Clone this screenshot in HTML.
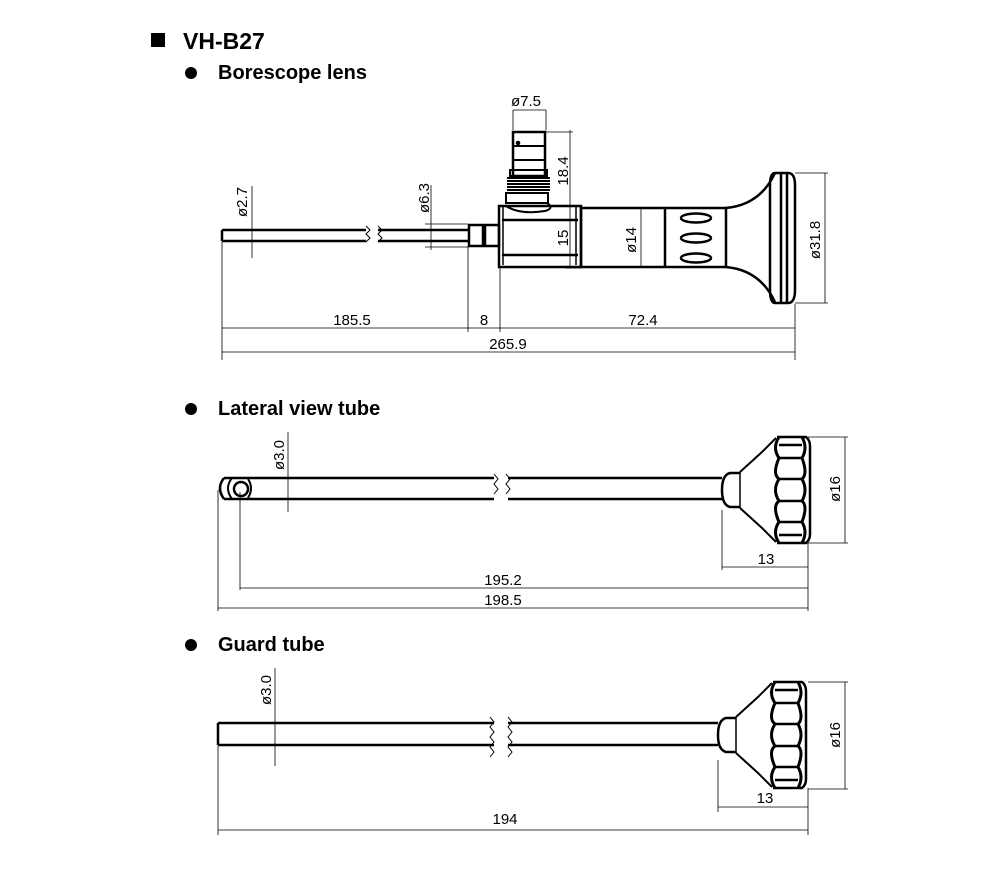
<!DOCTYPE html>
<html><head><meta charset="utf-8"><style>
html,body{margin:0;padding:0;background:#fff;}
svg{display:block;}
text{font-family:"Liberation Sans",Arial,sans-serif;fill:#000;}
.t{font-size:15px;}
.h{font-weight:bold;}
</style></head><body>
<svg width="1000" height="888" viewBox="0 0 1000 888" xmlns="http://www.w3.org/2000/svg">
<defs>
<g id="knob" fill="none" stroke="#000">
  <path d="M18,-17 L8,-17 Q0,-15 0,0 Q0,15 8,17 L18,17" stroke-width="2.5"/>
  <line x1="18" y1="-18" x2="18" y2="18" stroke-width="1.5"/>
  <path d="M18,-18 L40,-38 L54,-52 M18,18 L40,38 L54,52" stroke-width="2"/>
  <path d="M55,-53 L84,-53 Q88,-50 88,-44 L88,44 Q88,50 84,53 L55,53" stroke-width="2.5"/>
  <path d="M57,-53 Q50,-42 57,-32 Q50,-16 57,-11 Q50,0 57,11 Q50,16 57,32 Q50,42 57,53" stroke-width="3"/>
  <path d="M80,-53 Q86,-42 80,-32 Q86,-16 80,-11 Q86,0 80,11 Q86,16 80,32 Q86,42 80,53" stroke-width="3"/>
  <path d="M57,-45 H80 M57,-32 H80 M57,-11 H80 M57,11 H80 M57,32 H80 M57,45 H80" stroke-width="2.5"/>
</g>
</defs>

<rect x="151" y="33" width="14" height="14" fill="#000"/>
<text x="183" y="49" class="h" font-size="23">VH-B27</text>
<circle cx="191" cy="73" r="6"/>
<text x="218" y="79" class="h" font-size="20">Borescope lens</text>
<circle cx="191" cy="409" r="6"/>
<text x="218" y="415" class="h" font-size="20">Lateral view tube</text>
<circle cx="191" cy="645" r="6"/>
<text x="218" y="651" class="h" font-size="20">Guard tube</text>

<g fill="none" stroke="#000">
  <path d="M222,230 H366 M222,241 H366 M378,230 H468 M378,241 H468 M222,230 V241" stroke-width="2.5"/>
  <path d="M366,226 l4,4 -4,4 4,4 -4,4 M378,226 l4,4 -4,4 4,4 -4,4" stroke-width="1"/>
  <rect x="469" y="225" width="14" height="21" stroke-width="2.5"/>
  <rect x="485" y="225" width="14" height="21" stroke-width="2.5"/>
  <path d="M499,206 H581 V267 H499 Z" stroke-width="2.5"/>
  <path d="M502,220 H578 M502,255 H578" stroke-width="2.5"/>
  <path d="M503,207 V265 M576,207 V265" stroke-width="1.5"/>
  <path d="M506,206 Q520,215 545,211 Q555,208 547,203" stroke-width="2"/>
  <rect x="513" y="132" width="32" height="44" stroke-width="2.5"/>
  <path d="M513,146 H545 M513,160 H545" stroke-width="2"/>
  <circle cx="518" cy="143" r="1.8" fill="#000"/>
  <rect x="510" y="170" width="37" height="6" stroke-width="2"/>
  <path d="M507,178 H550 M507,181 H550 M507,184 H550 M507,187 H550 M507,190 H550" stroke-width="2"/>
  <rect x="506" y="193" width="42" height="10" stroke-width="2"/>
  <rect x="581" y="208" width="145" height="59" stroke-width="2.5"/>
  <line x1="665" y1="208" x2="665" y2="267" stroke-width="2.5"/>
  <ellipse cx="696" cy="218" rx="15" ry="4.5" stroke-width="2.5"/>
  <ellipse cx="696" cy="238" rx="15" ry="4.5" stroke-width="2.5"/>
  <ellipse cx="696" cy="258" rx="15" ry="4.5" stroke-width="2.5"/>
  <path d="M726,208 Q760,205 775,173 M726,267 Q760,270 775,302" stroke-width="2.5"/>
  <path d="M775,173 H788 Q795,173 795,185 V290 Q795,303 788,303 H775 Q770,303 770,290 V185 Q770,173 775,173 Z" stroke-width="2.5"/>
  <path d="M781,174 V302 M787,174 V302" stroke-width="2.5"/>

  <g stroke-width="0.8">
    <path d="M222,242 V360 M468,246 V332 M500,268 V332 M795,304 V360"/>
    <path d="M222,328 H795 M222,352 H795"/>
    <path d="M252,186 V258"/>
    <path d="M431,185 V250 M425,224 H468 M425,247 H468"/>
    <path d="M513,110 H546 M513,110 V130 M546,110 V130"/>
    <path d="M546,132 H573 M570,130 V268 M581,268 H565"/>
    <path d="M641,208 V267"/>
    <path d="M795,173 H828 M825,173 V303 M795,303 H828"/>
  </g>
</g>
<text x="352" y="325" class="t" text-anchor="middle">185.5</text>
<text x="484" y="325" class="t" text-anchor="middle">8</text>
<text x="643" y="325" class="t" text-anchor="middle">72.4</text>
<text x="508" y="349" class="t" text-anchor="middle">265.9</text>
<text x="526" y="106" class="t" text-anchor="middle">ø7.5</text>
<text class="t" text-anchor="middle" transform="translate(247,202) rotate(-90)">ø2.7</text>
<text class="t" text-anchor="middle" transform="translate(429,198) rotate(-90)">ø6.3</text>
<text class="t" text-anchor="middle" transform="translate(568,171) rotate(-90)">18.4</text>
<text class="t" text-anchor="middle" transform="translate(568,238) rotate(-90)">15</text>
<text class="t" text-anchor="middle" transform="translate(636,240) rotate(-90)">ø14</text>
<text class="t" text-anchor="middle" transform="translate(820,240) rotate(-90)">ø31.8</text>

<g fill="none" stroke="#000">
  <path d="M224,478 H494 M224,499 H494 M508,478 H722 M508,499 H722" stroke-width="2.5"/>
  <path d="M224,478 Q216,488 224,499" stroke-width="2.5"/>
  <path d="M232,478 Q224,488 232,499" stroke-width="2"/>
  <circle cx="241" cy="489" r="7" stroke-width="2.5"/>
  <path d="M248,479 Q254,488 248,498" stroke-width="2"/>
  <path d="M494,474 l4,5 -4,5 4,5 -4,5 M506,474 l4,5 -4,5 4,5 -4,5" stroke-width="1"/>
  <use href="#knob" x="722" y="490"/>
  <g stroke-width="0.8">
    <path d="M218,490 V611 M240,492 V590 M808,543 V611 M722,510 V570"/>
    <path d="M722,567 H808 M240,588 H808 M218,608 H808"/>
    <path d="M288,432 V512"/>
    <path d="M808,437 H848 M845,437 V543 M808,543 H848"/>
  </g>
</g>
<text x="766" y="564" class="t" text-anchor="middle">13</text>
<text x="503" y="585" class="t" text-anchor="middle">195.2</text>
<text x="503" y="605" class="t" text-anchor="middle">198.5</text>
<text class="t" text-anchor="middle" transform="translate(284,455) rotate(-90)">ø3.0</text>
<text class="t" text-anchor="middle" transform="translate(840,489) rotate(-90)">ø16</text>

<g fill="none" stroke="#000">
  <path d="M218,723 H494 M218,745 H494 M508,723 H718 M508,745 H718 M218,723 V745" stroke-width="2.5"/>
  <path d="M490,717 l4,5 -4,5 4,5 -4,5 4,5 -4,5 4,5 -4,5 M508,717 l4,5 -4,5 4,5 -4,5 4,5 -4,5 4,5 -4,5" stroke-width="1"/>
  <use href="#knob" x="718" y="735"/>
  <g stroke-width="0.8">
    <path d="M218,746 V835 M808,788 V835 M718,760 V812"/>
    <path d="M718,807 H808 M218,830 H808"/>
    <path d="M275,668 V766"/>
    <path d="M808,682 H848 M845,682 V789 M808,789 H848"/>
  </g>
</g>
<text x="765" y="803" class="t" text-anchor="middle">13</text>
<text x="505" y="824" class="t" text-anchor="middle">194</text>
<text class="t" text-anchor="middle" transform="translate(271,690) rotate(-90)">ø3.0</text>
<text class="t" text-anchor="middle" transform="translate(840,735) rotate(-90)">ø16</text>
</svg>
</body></html>
